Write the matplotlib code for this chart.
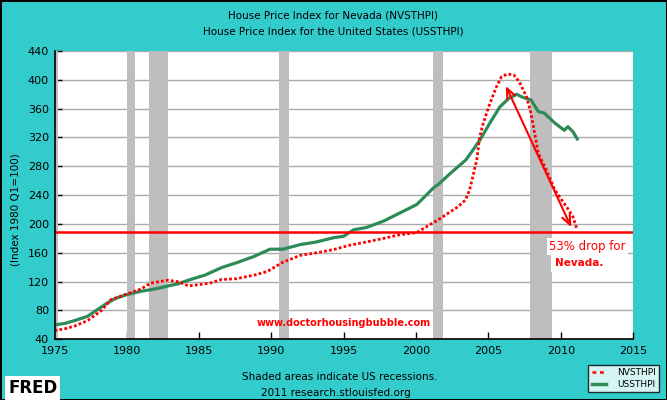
import matplotlib
matplotlib.use("Agg")
import matplotlib.pyplot as plt
from matplotlib.lines import Line2D

# ---- data (index, 1980 Q1 = 100) ----
us_years = [1975.0, 1975.7, 1976.4, 1977.3, 1978.25, 1978.7, 1979.2, 1980.0, 1981.0, 1982.0,
            1982.85, 1983.55, 1984.25, 1985.4, 1986.55, 1987.7, 1988.8, 1989.9, 1990.8, 1992.0,
            1993.1, 1994.3, 1995.0, 1995.45, 1995.7, 1996.55, 1997.75, 1998.85, 2000.05, 2001.2,
            2001.6, 2002.3, 2003.45, 2004.4, 2005.1, 2005.8, 2006.4, 2006.95, 2007.35, 2007.95,
            2008.45, 2008.85, 2009.6, 2010.25, 2010.5, 2010.85, 2011.2]
us_hpi = [60, 62, 66, 72, 85, 91, 96.5, 102, 106.7, 110,
          114, 117, 122, 129, 139.5, 147, 155, 165, 165, 171.5,
          175, 181, 183, 189, 192, 195, 204, 215, 227, 250,
          256, 269, 289, 316, 340, 362.6, 374, 380, 376, 372,
          356, 354, 340, 330, 335, 328, 316]

nv_years = [1975.0, 1975.8, 1976.4, 1977.3, 1978.25, 1978.9, 1979.6, 1981.0, 1981.65, 1982.25,
            1982.85, 1983.65, 1984.25, 1985.05, 1985.75, 1986.55, 1987.55, 1988.8, 1989.7, 1990.8,
            1992.0, 1993.1, 1994.3, 1995.4, 1996.55, 1997.75, 1998.85, 2000.05, 2000.7, 2001.55,
            2002.3, 2002.9, 2003.4, 2003.7, 2004.2, 2004.4, 2004.65, 2005.1, 2005.55, 2005.9,
            2006.3, 2006.75, 2007.15, 2007.65, 2007.95, 2008.2, 2008.45, 2009.0, 2009.6, 2010.4,
            2010.85, 2011.1]
nv_hpi = [52, 55, 58.5, 66, 80, 95, 100, 110, 118, 120,
          122, 119.5, 114, 116, 118, 123, 124, 129, 134, 147,
          156.5, 160, 164.5, 170.5, 175, 180, 185, 188, 196, 206,
          216, 224, 233, 247, 289, 321, 340, 367, 390, 404,
          408, 407, 397, 376, 353, 326, 298, 275, 247, 224,
          210, 194]

recessions = [(1973.9, 1975.25), (1980.0, 1980.55), (1981.5, 1982.85),
              (1990.5, 1991.2), (2001.15, 2001.85), (2007.9, 2009.4)]

drop_level = 189
arrow_from = (2006.13, 395)
arrow_to = (2010.81, 192)

xticks = list(range(1975, 2016, 5))
yticks = list(range(40, 441, 40))

teal = '#33CCCC'
green = '#2E8B57'
red = '#FF0000'

fig = plt.figure(figsize=(6.67, 4), dpi=100, facecolor=teal,
                 edgecolor='black', linewidth=2)
ax = fig.add_axes([54.5/667, 1 - 339.3/400, (633 - 54.5)/667, (339.3 - 51)/400])
ax.set_facecolor('white')

for a, b in recessions:
    ax.axvspan(a, b, color='#BEBEBE', lw=0, zorder=1)

ax.plot(us_years, us_hpi, color=green, lw=2.3, zorder=3, solid_capstyle='butt')
ax.plot(nv_years, nv_hpi, color=red, lw=2.0, linestyle=(0, (1.0, 0.8)), zorder=4)

# annotations added on top of the FRED chart
ax.axhline(drop_level, color=red, lw=1.8, zorder=5)
ax.annotate('', xy=arrow_to, xytext=arrow_from,
            arrowprops=dict(arrowstyle='<->,head_length=0.7,head_width=0.3',
                            color=red, lw=1.5), zorder=6)
ax.text(2009.22, 168.5, '53% drop for', color=red, fontsize=8.5,
        ha='left', va='center', zorder=7,
        bbox=dict(facecolor='white', edgecolor='none', pad=1.5))
ax.text(2009.6, 145.4, 'Nevada.', color=red, fontsize=7.5, fontweight='bold',
        ha='left', va='center', zorder=7,
        bbox=dict(facecolor='white', edgecolor='none', pad=3))
ax.text(1995.0, 63, 'www.doctorhousingbubble.com', color=red, fontsize=7,
        fontweight='bold', ha='center', va='center', zorder=7)

ax.set_xlim(1975, 2015)
ax.set_ylim(40, 440)
ax.set_xticks(xticks)
ax.set_yticks(yticks)
ax.tick_params(direction='in', length=5, labelsize=8, width=1)
ax.tick_params(axis='x', pad=5)
ax.tick_params(axis='y', pad=4)
ax.yaxis.grid(True, color='#AAAAAA', lw=1, zorder=0)
ax.set_axisbelow(True)
for s in ['top', 'right']:
    ax.spines[s].set_visible(False)
for s in ['left', 'bottom']:
    ax.spines[s].set_linewidth(1.2)
    ax.spines[s].set_zorder(8)

fig.text(15/667, 1 - 210/400, '(Index 1980 Q1=100)', rotation=90,
         ha='center', va='center', fontsize=7.5)

fig.text(0.5, 1 - 15/400, 'House Price Index for Nevada (NVSTHPI)',
         ha='center', va='center', fontsize=7.5)
fig.text(0.5, 1 - 32/400, 'House Price Index for the United States (USSTHPI)',
         ha='center', va='center', fontsize=7.5)

fig.text(340/667, 1 - 377/400, 'Shaded areas indicate US recessions.',
         ha='center', va='center', fontsize=7.5)
fig.text(336/667, 1 - 393/400, '2011 research.stlouisfed.org',
         ha='center', va='center', fontsize=7.5)

# FRED logo stand-in
fig.text(8/667, 1 - 388/400, 'FRED', fontsize=12, fontweight='heavy',
         ha='left', va='center', color='black',
         bbox=dict(facecolor='white', edgecolor='none', pad=2))

handles = [Line2D([], [], color=red, lw=1.8, linestyle=(0, (1.5, 1.5))),
           Line2D([], [], color=green, lw=2.5)]
leg = fig.legend(handles, ['NVSTHPI', 'USSTHPI'], loc='lower right',
                 bbox_to_anchor=(664/667, 3/400), fontsize=6.5,
                 handlelength=1.6, frameon=True, fancybox=False,
                 borderpad=0.4, labelspacing=0.3, handletextpad=1.2)
leg.get_frame().set_edgecolor('black')
leg.get_frame().set_linewidth(1)

fig.savefig('out.png', dpi=100, facecolor=fig.get_facecolor(),
            edgecolor=fig.get_edgecolor())
